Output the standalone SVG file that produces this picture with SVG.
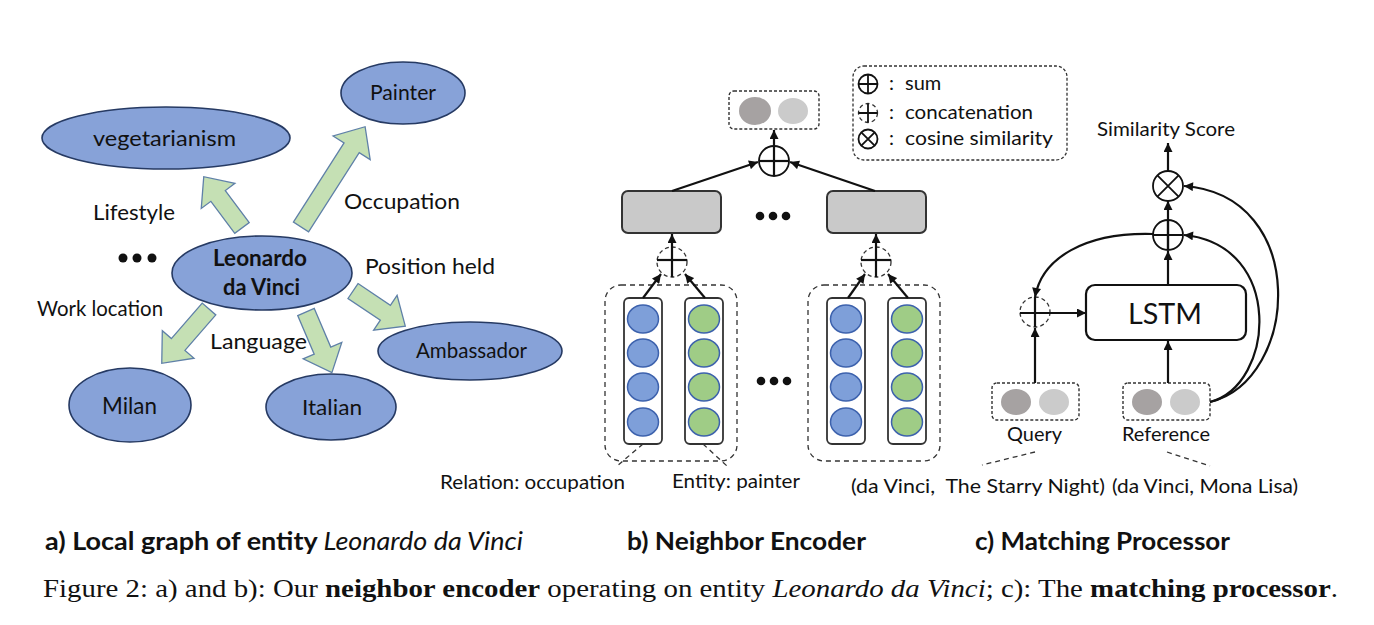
<svg xmlns="http://www.w3.org/2000/svg" width="1374" height="625" viewBox="0 0 1374 625">
<defs>
<style>
.t{font-family:Lato,"Open Sans","Liberation Sans",sans-serif;fill:#111}
.b{font-weight:bold}
.ent{fill:#87a2d8;stroke:#263a63;stroke-width:1.6}
.garr{fill:#c5e0b4;stroke:#5f80a8;stroke-width:1.3}
.ln{stroke:#111;stroke-width:2.2;fill:none}
.lnm{stroke:#111;stroke-width:2.2;fill:none;marker-end:url(#ah)}
.circ{fill:#fff;stroke:#111;stroke-width:1.8}
.dcirc{fill:#fff;stroke:#333;stroke-width:1.3;stroke-dasharray:4 3}
.gbox{fill:#c9c9c9;stroke:#333;stroke-width:2}
.col{fill:#fff;stroke:#333;stroke-width:1.8}
.grp{fill:none;stroke:#333;stroke-width:1.3;stroke-dasharray:5 4}
.vbox{fill:#fff;stroke:#333;stroke-width:1.4;stroke-dasharray:3 2}
.dk{fill:#a6a2a2}
.lt{fill:#cbcbcb}
.bl{fill:#7e9fd9;stroke:#3d62ad;stroke-width:1.5}
.gr{fill:#9fcc86;stroke:#3d62ad;stroke-width:1.5}
.lead{stroke:#333;stroke-width:1.3;stroke-dasharray:5 4;fill:none}
</style>
<marker id="ah" viewBox="0 0 10 10" refX="10" refY="5" markerWidth="10" markerHeight="9" orient="auto" markerUnits="userSpaceOnUse"><path d="M0,0 L10,5 L0,10 z" fill="#111"/></marker>
</defs>

<!-- Part a: local graph -->
<g id="node-painter"><ellipse class="ent" cx="403" cy="93" rx="62" ry="31"/><text class="t" x="370" y="100" font-size="21" textLength="66" lengthAdjust="spacingAndGlyphs">Painter</text></g>
<g id="node-vegetarianism"><ellipse class="ent" cx="166" cy="138" rx="124" ry="31"/><text class="t" x="93" y="146" font-size="22" textLength="143" lengthAdjust="spacingAndGlyphs">vegetarianism</text></g>
<g id="node-leonardo"><ellipse class="ent" cx="262" cy="273" rx="90" ry="37"/><text class="t b" x="213" y="266" font-size="22" textLength="94" lengthAdjust="spacingAndGlyphs">Leonardo</text><text class="t b" x="223" y="295" font-size="22" textLength="77" lengthAdjust="spacingAndGlyphs">da Vinci</text></g>
<g id="node-milan"><ellipse class="ent" cx="130" cy="405" rx="61" ry="37"/><text class="t" x="102" y="414" font-size="23" textLength="55" lengthAdjust="spacingAndGlyphs">Milan</text></g>
<g id="node-italian"><ellipse class="ent" cx="331" cy="407" rx="65" ry="33"/><text class="t" x="302" y="415" font-size="22" textLength="60" lengthAdjust="spacingAndGlyphs">Italian</text></g>
<g id="node-ambassador"><ellipse class="ent" cx="470" cy="351" rx="92" ry="29"/><text class="t" x="416" y="358" font-size="21" textLength="111" lengthAdjust="spacingAndGlyphs">Ambassador</text></g>

<g id="relations">
<polygon class="garr" transform="translate(242,228) rotate(-126.7)" points="0,-9 40,-9 40,-21 64,0 40,21 40,9 0,9"/>
<polygon class="garr" transform="translate(301,227) rotate(-57.4)" points="0,-9 94,-9 94,-22 119,0 94,22 94,9 0,9"/>
<polygon class="garr" transform="translate(353,291) rotate(33.9)" points="0,-9 39,-9 39,-21 63,0 39,21 39,9 0,9"/>
<polygon class="garr" transform="translate(306,312) rotate(66.9)" points="0,-9 42,-9 42,-21 66,0 42,21 42,9 0,9"/>
<polygon class="garr" transform="translate(209,309) rotate(131)" points="0,-9 47,-9 47,-21 72,0 47,21 47,9 0,9"/>
</g>
<g id="relation-labels">
<text class="t" x="93" y="220" font-size="21" textLength="82" lengthAdjust="spacingAndGlyphs">Lifestyle</text>
<text class="t" x="344" y="209" font-size="21" textLength="116" lengthAdjust="spacingAndGlyphs">Occupation</text>
<text class="t" x="365" y="274" font-size="21" textLength="130" lengthAdjust="spacingAndGlyphs">Position held</text>
<text class="t" x="37" y="316" font-size="21" textLength="126" lengthAdjust="spacingAndGlyphs">Work location</text>
<text class="t" x="210" y="349" font-size="21" textLength="97" lengthAdjust="spacingAndGlyphs">Language</text>
<circle cx="123" cy="258" r="4.5" fill="#111"/><circle cx="137" cy="258" r="4.5" fill="#111"/><circle cx="152" cy="258" r="4.5" fill="#111"/>
</g>

<!-- Part b: neighbor encoder -->
<g id="legend">
<rect x="853" y="66" width="214" height="94" rx="11" fill="#fff" stroke="#333" stroke-width="1.3" stroke-dasharray="3 2"/>
<circle class="circ" cx="868" cy="84" r="9.5"/><path class="ln" style="stroke-width:1.8" d="M858.5,84 H877.5 M868,74.5 V93.5"/>
<circle class="dcirc" cx="868" cy="113" r="9.5"/><path class="ln" style="stroke-width:1.8" d="M858.5,113 H877.5 M868,103.5 V122.5"/>
<circle class="circ" cx="868" cy="139" r="9.5"/><path class="ln" style="stroke-width:1.8" d="M861.3,132.3 L874.7,145.7 M874.7,132.3 L861.3,145.7"/>
<text class="t" x="889" y="90" font-size="20">:</text>
<text class="t" x="889" y="119" font-size="20">:</text>
<text class="t" x="889" y="145" font-size="20">:</text>
<text class="t" x="905" y="90" font-size="20">sum</text>
<text class="t" x="905" y="119" font-size="20" textLength="128" lengthAdjust="spacingAndGlyphs">concatenation</text>
<text class="t" x="905" y="145" font-size="20" textLength="148" lengthAdjust="spacingAndGlyphs">cosine similarity</text>
</g>

<g id="node-output-b"><rect class="vbox" x="729" y="91" width="90" height="38" rx="5"/><ellipse class="dk" cx="755" cy="111" rx="16" ry="14"/><ellipse class="lt" cx="793" cy="111" rx="15" ry="13"/></g>
<g id="node-sum-b"><circle class="circ" cx="774" cy="161" r="15"/></g>
<g id="node-box1"><rect class="gbox" x="622" y="191" width="99" height="42" rx="6"/></g>
<g id="node-box2"><rect class="gbox" x="827" y="191" width="99" height="42" rx="6"/></g>
<g id="node-concat1"><circle class="dcirc" cx="672" cy="262" r="15"/></g>
<g id="node-concat2"><circle class="dcirc" cx="876" cy="262" r="15"/></g>

<g id="node-group1">
<rect class="grp" x="605" y="285" width="132" height="176" rx="16"/>
<rect class="col" x="624" y="298" width="38" height="146" rx="5"/>
<rect class="col" x="685" y="298" width="38" height="146" rx="5"/>
<ellipse class="bl" cx="643" cy="319" rx="15.5" ry="14"/><ellipse class="bl" cx="643" cy="353" rx="15.5" ry="14"/><ellipse class="bl" cx="643" cy="387" rx="15.5" ry="14"/><ellipse class="bl" cx="643" cy="422" rx="15.5" ry="14"/>
<ellipse class="gr" cx="704" cy="319" rx="15.5" ry="14"/><ellipse class="gr" cx="704" cy="353" rx="15.5" ry="14"/><ellipse class="gr" cx="704" cy="387" rx="15.5" ry="14"/><ellipse class="gr" cx="704" cy="422" rx="15.5" ry="14"/>
</g>
<g id="node-group2">
<rect class="grp" x="808" y="285" width="132" height="176" rx="16"/>
<rect class="col" x="827" y="298" width="38" height="146" rx="5"/>
<rect class="col" x="888" y="298" width="38" height="146" rx="5"/>
<ellipse class="bl" cx="846" cy="319" rx="15.5" ry="14"/><ellipse class="bl" cx="846" cy="353" rx="15.5" ry="14"/><ellipse class="bl" cx="846" cy="387" rx="15.5" ry="14"/><ellipse class="bl" cx="846" cy="422" rx="15.5" ry="14"/>
<ellipse class="gr" cx="907" cy="319" rx="15.5" ry="14"/><ellipse class="gr" cx="907" cy="353" rx="15.5" ry="14"/><ellipse class="gr" cx="907" cy="387" rx="15.5" ry="14"/><ellipse class="gr" cx="907" cy="422" rx="15.5" ry="14"/>
</g>
<g id="ellipses-b">
<circle cx="760" cy="216" r="4.3" fill="#111"/><circle cx="773" cy="216" r="4.3" fill="#111"/><circle cx="786" cy="216" r="4.3" fill="#111"/>
<circle cx="761" cy="381" r="4.3" fill="#111"/><circle cx="774" cy="381" r="4.3" fill="#111"/><circle cx="787" cy="381" r="4.3" fill="#111"/>
</g>

<!-- Part c: matching processor -->
<g id="node-cos"><circle class="circ" cx="1168" cy="186" r="15"/><path class="ln" style="stroke-width:1.8" d="M1157.4,175.4 L1178.6,196.6 M1178.6,175.4 L1157.4,196.6"/></g>
<g id="node-sum-c"><circle class="circ" cx="1168" cy="235" r="15"/></g>
<g id="node-lstm"><rect x="1086" y="285" width="160" height="55" rx="9" fill="#fff" stroke="#111" stroke-width="2.2"/><text class="t" x="1128" y="324" font-size="29" textLength="74" lengthAdjust="spacingAndGlyphs">LSTM</text></g>
<g id="node-concat-c"><circle class="dcirc" cx="1035" cy="312" r="15"/></g>
<g id="node-query"><rect class="vbox" x="992" y="383" width="87" height="37" rx="5"/><ellipse class="dk" cx="1016" cy="402" rx="15" ry="13"/><ellipse class="lt" cx="1054" cy="402" rx="15" ry="13"/></g>
<g id="node-reference"><rect class="vbox" x="1123" y="383" width="87" height="37" rx="5"/><ellipse class="dk" cx="1147" cy="402" rx="15" ry="13"/><ellipse class="lt" cx="1185" cy="402" rx="15" ry="13"/></g>

<g id="connectors">
<!-- b -->
<path class="lnm" d="M774,176 V130"/>
<path class="ln" d="M759,161 H789"/>
<path class="lnm" d="M672,191 L758,162"/>
<path class="lnm" d="M875,191 L790,162"/>
<path class="lnm" d="M672,277 V234"/>
<path class="ln" d="M657,260 H687"/>
<path class="lnm" d="M876,277 V234"/>
<path class="ln" d="M861,260 H891"/>
<path class="lnm" d="M643,298 L661,274"/>
<path class="lnm" d="M705,298 L685,274"/>
<path class="lnm" d="M848,298 L865,274"/>
<path class="lnm" d="M908,298 L888,274"/>
<!-- c -->
<path class="lnm" d="M1168,171 V143"/>
<path class="lnm" d="M1168,250 V201"/>
<path class="ln" d="M1153,235 H1183 M1168,220 V250"/>
<path class="lnm" d="M1168,285 V251"/>
<path class="lnm" d="M1168,383 V341"/>
<path class="lnm" d="M1020,313 H1086"/>
<path class="ln" d="M1035,297 V327"/>
<path class="lnm" d="M1035,383 V328"/>
<path class="lnm" d="M1153,234 C1085,232 1042,258 1035,297"/>
<path class="lnm" d="M1210,402 C1275,385 1285,245 1184,235"/>
<path class="lnm" d="M1210,402 C1300,380 1310,195 1184,186"/>
<!-- leaders -->
<path class="lead" d="M643,444 L617,466"/>
<path class="lead" d="M703,444 L727,466"/>
<path class="lead" d="M1035,452 L982,465"/>
<path class="lead" d="M1167,452 L1210,466"/>
</g>

<g id="labels">
<text class="t" x="1097" y="136" font-size="20" textLength="138" lengthAdjust="spacingAndGlyphs">Similarity Score</text>
<text class="t" x="1007" y="441" font-size="20" textLength="55" lengthAdjust="spacingAndGlyphs">Query</text>
<text class="t" x="1122" y="441" font-size="20" textLength="88" lengthAdjust="spacingAndGlyphs">Reference</text>
<text class="t" x="440" y="489" font-size="20" textLength="185" lengthAdjust="spacingAndGlyphs">Relation: occupation</text>
<text class="t" x="672" y="488" font-size="20" textLength="128" lengthAdjust="spacingAndGlyphs">Entity: painter</text>
<text class="t" x="851" y="493" font-size="20" xml:space="preserve" textLength="254" lengthAdjust="spacingAndGlyphs">(da Vinci,  The Starry Night)</text>
<text class="t" x="1112" y="493" font-size="20" textLength="186" lengthAdjust="spacingAndGlyphs">(da Vinci, Mona Lisa)</text>
</g>

<g id="captions">
<text class="t" x="45" y="550" font-size="25" textLength="478" lengthAdjust="spacingAndGlyphs"><tspan class="b">a) Local graph of entity </tspan><tspan font-style="italic">Leonardo da Vinci</tspan></text>
<text class="t b" x="627" y="550" font-size="25" textLength="239" lengthAdjust="spacingAndGlyphs">b) Neighbor Encoder</text>
<text class="t b" x="975" y="550" font-size="25" textLength="255" lengthAdjust="spacingAndGlyphs">c) Matching Processor</text>
<text x="43" y="597" font-size="26" font-family="'Liberation Serif','Times New Roman',serif" fill="#111" textLength="1295" lengthAdjust="spacingAndGlyphs">Figure 2: a) and b): Our <tspan font-weight="bold">neighbor encoder</tspan> operating on entity <tspan font-style="italic">Leonardo da Vinci</tspan>; c): The <tspan font-weight="bold">matching processor</tspan>.</text>
</g>
</svg>
